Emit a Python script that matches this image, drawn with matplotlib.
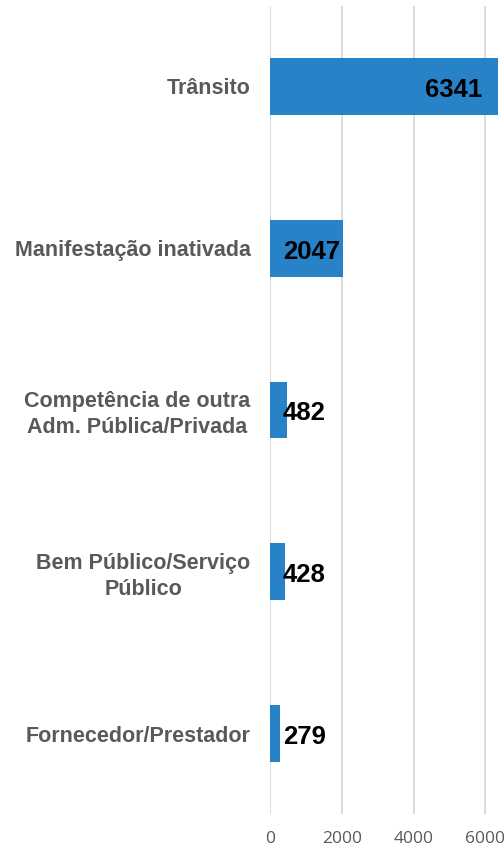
import matplotlib
matplotlib.use("Agg")
import matplotlib.pyplot as plt

categories = ["Trânsito", "Manifestação inativada",
              "Competência de outra\nAdm. Pública/Privada",
              "Bem Público/Serviço\nPúblico", "Fornecedor/Prestador"]
values = [6341, 2047, 482, 428, 279]
xticks = [0, 2000, 4000, 6000]

fig = plt.figure(figsize=(5.04, 8.51), dpi=100)
ax = fig.add_axes([270/504, (851-814.4)/851, (504-270)/504, (814.4-5.6)/851])

ypos = list(range(len(categories)))
ax.barh(ypos, values, height=0.352, color="#2882C8", zorder=3)
ax.set_ylim(len(categories) - 0.5, -0.5)
ax.set_xlim(0, 6520)

ax.set_xticks(xticks)
ax.set_xticklabels([str(t) for t in xticks], fontsize=12.5, color="#595959", family="Open Sans")
ax.set_yticks(ypos)
ax.set_yticklabels(categories, fontsize=15.5, fontweight="bold", color="#595959",
                   family="Liberation Sans", linespacing=1.3)
ax.tick_params(axis="y", length=0, pad=14)
ax.tick_params(axis="x", length=0, pad=12)
for lab in ax.get_yticklabels():
    lab.set_horizontalalignment("right")
    lab.set_multialignment("center")

ax.grid(axis="x", color="#d9d9d9", linewidth=1.3, zorder=0)
for s in ax.spines.values():
    s.set_visible(False)

for y, v in zip(ypos, values):
    if v > 5000:
        ax.annotate(str(v), xy=(v, y), xytext=(-11, -2.5), textcoords="offset points",
                    ha="right", va="center", fontsize=18.5, fontweight="bold",
                    family="Liberation Sans", color="black", zorder=4)
    else:
        ax.annotate(str(v), xy=(0, y), xytext=(9.2, -2.5), textcoords="offset points",
                    ha="left", va="center", fontsize=18.5, fontweight="bold",
                    family="Liberation Sans", color="black", zorder=4)

fig.savefig("out.png", dpi=100)
